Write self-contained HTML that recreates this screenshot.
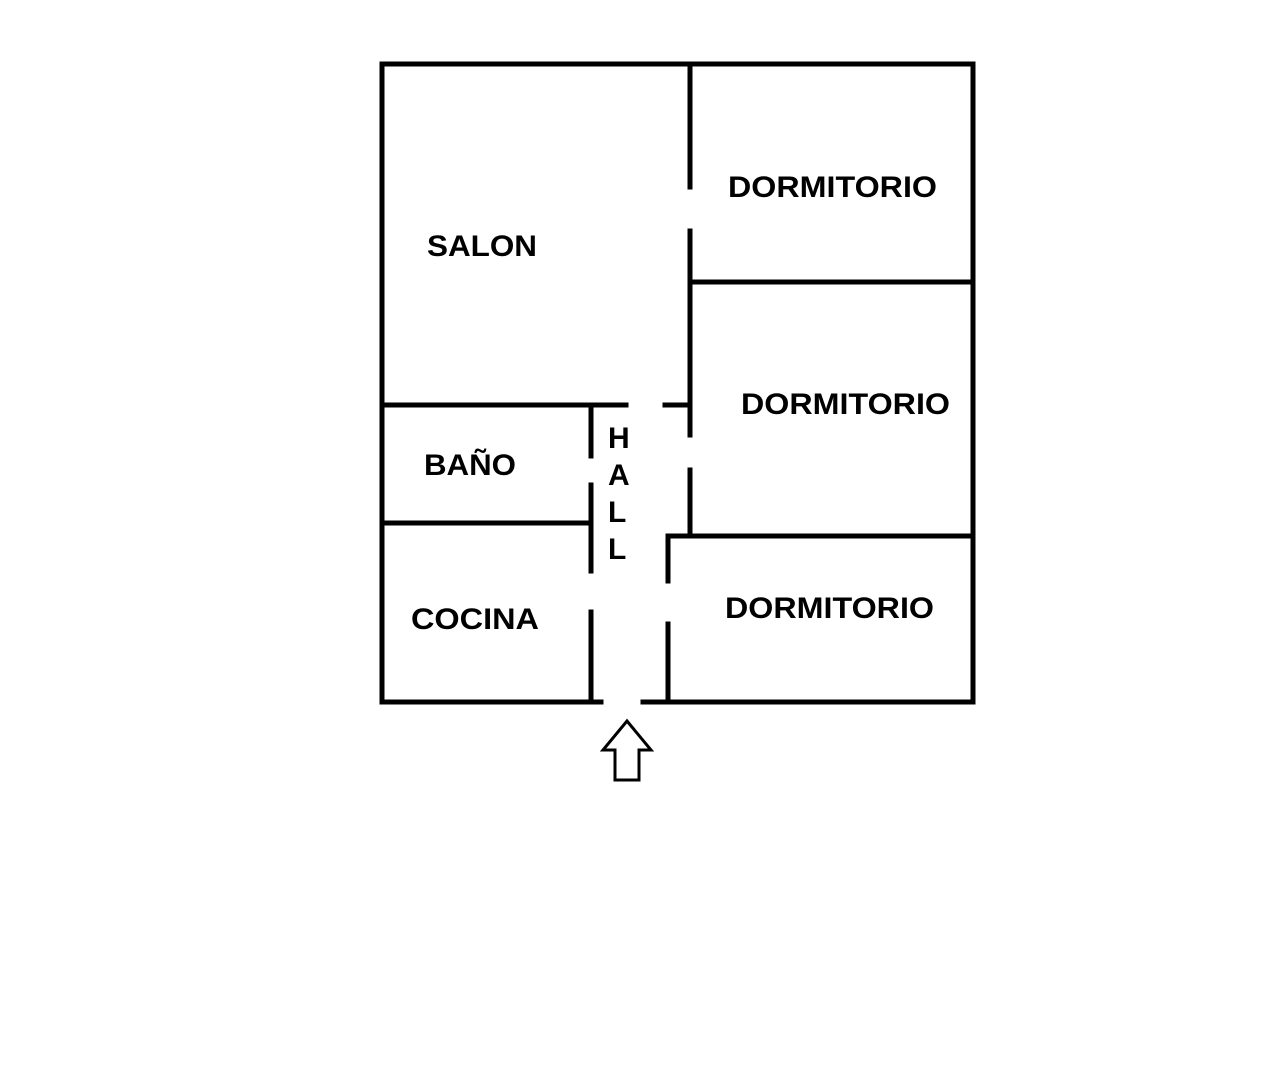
<!DOCTYPE html>
<html><head><style>html,body{margin:0;padding:0;background:#fff;}svg{display:block}</style></head><body>
<svg width="1283" height="1079" xmlns="http://www.w3.org/2000/svg">
<g stroke="#000" stroke-width="5" fill="none" stroke-linecap="square">
<line x1="382" y1="64" x2="973" y2="64"/>
<line x1="382" y1="64" x2="382" y2="702"/>
<line x1="973" y1="64" x2="973" y2="702"/>
<line x1="382" y1="702" x2="601" y2="702"/>
<line x1="643" y1="702" x2="973" y2="702"/>
<line x1="690" y1="64" x2="690" y2="187"/>
<line x1="690" y1="231" x2="690" y2="435"/>
<line x1="690" y1="470" x2="690" y2="534"/>
<line x1="690" y1="282" x2="973" y2="282"/>
<line x1="382" y1="405" x2="626" y2="405"/>
<line x1="665" y1="405" x2="690" y2="405"/>
<line x1="668" y1="536" x2="973" y2="536"/>
<line x1="668" y1="536" x2="668" y2="581"/>
<line x1="668" y1="624" x2="668" y2="702"/>
<line x1="382" y1="523" x2="591" y2="523"/>
<line x1="591" y1="405" x2="591" y2="456"/>
<line x1="591" y1="485" x2="591" y2="571"/>
<line x1="591" y1="612" x2="591" y2="702"/>
</g>
<polygon points="627,721 651,750 639,750 639,780 615,780 615,750 603,750" fill="none" stroke="#000" stroke-width="3" stroke-linejoin="miter"/>
<g font-family="Liberation Sans, Arial, sans-serif" font-weight="bold" font-size="30" fill="#000">
<text x="427" y="256" textLength="110" lengthAdjust="spacingAndGlyphs">SALON</text>
<text x="728" y="197" textLength="209" lengthAdjust="spacingAndGlyphs">DORMITORIO</text>
<text x="741" y="414" textLength="209" lengthAdjust="spacingAndGlyphs">DORMITORIO</text>
<text x="725" y="618" textLength="209" lengthAdjust="spacingAndGlyphs">DORMITORIO</text>
<text x="424" y="475" textLength="92" lengthAdjust="spacingAndGlyphs">BAÑO</text>
<text x="411" y="629" textLength="128" lengthAdjust="spacingAndGlyphs">COCINA</text>
<text x="608" y="448">H</text>
<text x="608" y="485">A</text>
<text x="608" y="522">L</text>
<text x="608" y="559">L</text>
</g>
</svg>
</body></html>
